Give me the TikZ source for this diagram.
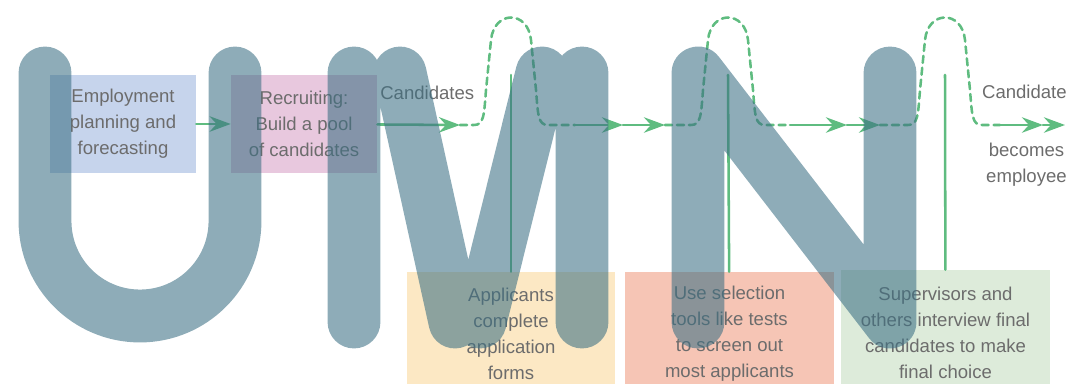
\documentclass[tikz,border=0pt]{standalone}
\usepackage{fontspec}
\setmainfont{Liberation Sans}
\usetikzlibrary{arrows.meta}

\definecolor{flowgreen}{RGB}{95,188,128}
\definecolor{txtgrey}{RGB}{108,108,108}
\definecolor{planblue}{RGB}{198,212,236}
\definecolor{recpink}{RGB}{232,200,222}
\definecolor{appyellow}{RGB}{252,232,196}
\definecolor{selsalmon}{RGB}{246,197,181}
\definecolor{intgreen}{RGB}{221,235,218}
\definecolor{wmark}{RGB}{60,112,132}

\tikzset{
  stage/.style={inner sep=0pt, align=center, text=txtgrey, font=\fontsize{13.2}{18.4}\selectfont},
  topstage/.style={stage, minimum width=3.65cm, minimum height=2.45cm},
  lowstage/.style={stage, minimum width=5.2cm, minimum height=3.1cm},
  lbl/.style={inner sep=0pt, align=center, text=txtgrey, font=\fontsize{13.2}{18.4}\selectfont},
  flow/.style={draw=flowgreen, line width=1.8pt},
  flowarrow/.style={flow, -{Stealth[length=15pt,width=11pt,inset=5pt]}},
  hop/.style={flow, dash pattern=on 5pt off 3.5pt},
  wmstroke/.style={draw=wmark, line width=37.6pt, line cap=round, line join=round}
}

\begin{document}
\begin{tikzpicture}[x=0.025cm, y=0.025cm, line cap=round]
	\useasboundingbox (0,0) rectangle (1073,383);
	\clip (0,0) rectangle (1073,383);
	
	% ---- stage boxes ----
	\node[topstage, fill=planblue] (plan) at (123,259) {Employment\\planning and\\forecasting};
	\node[topstage, fill=recpink] (recruit) at (304,259) {Recruiting:\\Build a pool\\of candidates};
	\node[lowstage, fill=appyellow] (apply) at (511,49) {Applicants\\complete\\application\\forms};
	\node[lowstage, fill=selsalmon] (select) at (729.5,49) {Use selection\\tools like tests\\to screen out\\most applicants};
	\node[lowstage, fill=intgreen, minimum height=3.15cm] (interview) at (945.5,50)
	{Supervisors and\\others interview final\\candidates to make\\final choice};
	
	% ---- labels along the flow ----
	\node[lbl, anchor=west] (cands) at (380,290) {Candidates};
	\node[lbl, anchor=east] (hired) at (1067,291) {Candidate};
	\node[lbl, anchor=east] (hiredb) at (1067,218) {becomes\\employee};
	
	% ---- flow line with a hop over each screening step ----
	\foreach \c/\s/\e/\m/\f [count=\i] in {511/460/575/623/665, 728/665/790/847/880, 945/880/1000/1043/1065}{
		\coordinate (in\i) at (\s,258);
		\coordinate (out\i) at (\e,258);
		\coordinate (mid\i) at (\m,258);
		\coordinate (end\i) at (\f,258);
		\coordinate (post\i) at (\c,308);
		\draw[hop] (in\i) -- (\c-37,258)
		.. controls (\c-27,258) and (\c-27,268) .. (\c-25,293) -- (\c-20,343)
		.. controls (\c-17,373) and (\c+17,373) .. (\c+20,343) -- (\c+25,293)
		.. controls (\c+27,268) and (\c+27,258) .. (\c+37,258) -- (out\i);
		\draw[flowarrow] (out\i) -- (mid\i);
		\draw[flowarrow] (mid\i) -- (end\i);
	}
	\draw[flowarrow] (plan) -- (recruit);
	\draw[flowarrow] (recruit) -- (in1);
	
	% posts down to the screening steps
	\draw[flow] (apply) -- (post1);
	\draw[flow] (select) -- (post2);
	\draw[flow] (interview) -- (post3);
	
	% ---- UMN lettering laid over everything ----
	\begin{scope}[transparency group, opacity=0.58]
		\draw[wmstroke] (45,310) -- (45,162) arc[start angle=180, end angle=360, radius=95] -- (235,310);
		\draw[wmstroke] (354,61) -- (354,310) (400,310) -- (455,61) (542,310) -- (480,61) (582,310) -- (582,61);
		\draw[wmstroke] (698,61) -- (698,310) -- (890,61) -- (890,310);
	\end{scope}
	
\end{tikzpicture}
\end{document}
